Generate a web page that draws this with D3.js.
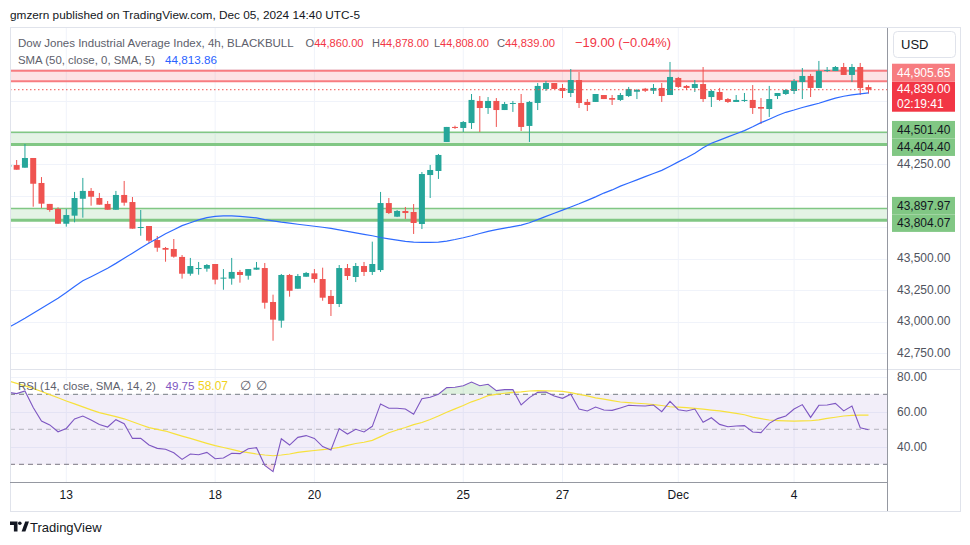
<!DOCTYPE html>
<html><head><meta charset="utf-8">
<script src="https://cdn.jsdelivr.net/npm/d3@7"></script>
<style>
html,body{margin:0;padding:0;background:#fff;}
svg{display:block;font-family:"Liberation Sans",Arial,sans-serif;}
</style></head><body>
<svg id="chart" width="970" height="545"></svg>
<script>
// ---------------- DATA ----------------
const opens  = [44229,44242,44221,44298,44100,43934,43894,43777,43841,43975,44037,43981,43934,43888,44005,43949,43746,43759,43648,43585,43577,43514,43381,43421,43421,43458,43345,43342,43395,43365,43413,43426,43157,43009,43371,43262,43357,43384,43339,43205,43141,43426,43355,43442,43395,43410,43941,43833,43878,43870,43775,44163,44195,44425,44544,44536,44575,44750,44694,44750,44678,44728,44734,44552,44734,44845,44892,44853,44813,44916,44742,44742,44797,44773,44758,44789,44823,44847,44831,44853,44797,44932,44869,44853,44884,44781,44821,44765,44742,44752,44758,44702,44686,44789,44805,44829,44900,44948,44853,44987,44987,45019,44956,45019,44860];
const highs  = [44250,44282,44409,44298,44147,43934,43907,43894,44029,44140,44060,44021,43957,44037,44116,43989,43886,43759,43680,43593,43656,43529,43506,43474,43458,43458,43418,43506,43411,43418,43474,43466,43215,43379,43379,43379,43395,43418,43429,43252,43450,43458,43466,43474,43635,44029,43981,43886,43910,43933,44187,44243,44330,44544,44554,44591,44805,44789,44781,44773,44742,44750,44805,44750,44892,44908,44892,44884,45003,44979,44765,44805,44797,44797,44813,44861,44845,44853,44884,44892,45059,44940,44876,44916,45019,44837,44853,44773,44797,44813,44876,44773,44869,44813,44845,44924,45011,44964,45067,45019,45027,45051,45043,45051,44878];
const lows   = [44222,44205,44221,43912,43902,43872,43777,43754,43788,43825,43920,43928,43888,43888,43920,43738,43682,43622,43555,43476,43508,43342,43365,43373,43397,43297,43254,43294,43310,43334,43413,43104,42850,42953,43199,43262,43357,43310,43167,43046,43117,43331,43315,43363,43371,43395,43854,43830,43815,43696,43735,43981,44132,44425,44528,44504,44528,44504,44647,44544,44678,44663,44512,44425,44678,44829,44845,44773,44781,44694,44670,44742,44765,44718,44750,44781,44765,44821,44805,44742,44797,44853,44837,44821,44742,44702,44750,44734,44742,44742,44647,44567,44623,44765,44797,44805,44765,44781,44853,44979,44987,44956,44900,44797,44808];
const closes = [44243,44205,44298,44094,43936,43886,43777,43846,43981,44037,43991,43928,43888,44005,43944,43738,43751,43643,43587,43571,43516,43381,43442,43426,43450,43334,43350,43395,43371,43418,43429,43151,43017,43371,43246,43363,43387,43339,43191,43141,43426,43363,43442,43395,43458,43941,43862,43878,43862,43783,44171,44203,44322,44544,44536,44583,44758,44694,44750,44678,44726,44734,44544,44742,44869,44892,44845,44829,44916,44734,44718,44805,44765,44760,44797,44845,44837,44831,44853,44789,44940,44861,44853,44884,44765,44829,44758,44742,44758,44758,44694,44689,44765,44813,44837,44908,44948,44853,44987,44995,45019,44956,45019,44853,44839];
const sma50  = [42955,42990,43028,43068,43107,43147,43187,43232,43280,43325,43357,43390,43425,43463,43503,43544,43585,43625,43660,43697,43730,43762,43785,43808,43825,43836,43840,43840,43836,43830,43823,43810,43800,43790,43782,43773,43765,43757,43749,43741,43729,43717,43705,43693,43682,43668,43657,43647,43638,43632,43630,43630,43632,43640,43652,43666,43682,43700,43717,43730,43742,43754,43766,43785,43810,43835,43860,43885,43910,43935,43962,43990,44020,44045,44075,44100,44125,44150,44175,44200,44233,44267,44300,44335,44380,44415,44440,44465,44490,44515,44545,44578,44605,44635,44660,44678,44698,44715,44732,44752,44772,44787,44798,44806,44814];
const rsi    = [71.1,70.4,71.9,62.4,54.7,52.5,48.6,50.5,55.9,57.6,55.3,52.8,51.3,55.5,53.2,44.8,44.8,41.0,39.1,38.6,36.6,32.8,35.9,35.5,36.8,33.2,33.6,36.3,36.1,38.9,39.5,29.4,25.8,44.6,41.0,45.4,46.4,44.8,40.1,38.2,50.4,47.3,50.0,48.5,51.7,64.5,62.0,62.0,61.6,58.6,67.5,68.3,70.0,73.8,74.0,74.9,77.0,74.9,75.7,72.1,72.65,72.65,63.9,68.1,71.1,71.3,69.0,67.7,70.0,61.6,60.5,62.7,61.0,60.8,62.2,63.7,63.5,63.3,63.9,60.1,66.0,61.2,60.5,61.6,54.0,56.6,52.8,51.5,51.9,52.1,48.5,48.1,53.4,56.1,57.6,61.6,64.1,56.8,63.7,63.9,64.8,60.5,63.3,50.9,49.75];
const rsiMa  = [77.6,76.2,74.8,73.4,71.6,69.8,68.0,66.2,64.5,62.8,61.1,59.5,58.4,57.2,56.0,54.3,52.6,51.0,50.0,49.0,47.5,46.1,44.8,43.4,42.0,40.7,39.6,38.5,37.4,36.7,35.9,35.3,34.9,35.3,35.9,36.8,37.4,37.9,38.4,38.9,39.7,40.8,41.9,42.6,43.7,45.8,48.0,49.6,51.0,52.7,53.9,55.6,57.6,59.7,61.7,63.6,65.7,67.3,69.2,70.0,70.6,71.1,71.4,71.9,72.1,72.0,71.9,71.7,71.0,70.0,69.1,68.0,67.2,66.4,65.6,65.2,64.9,64.6,64.1,63.6,62.9,62.7,62.4,62.0,61.5,61.0,60.5,59.8,59.1,58.3,57.0,56.1,55.3,55.0,54.8,54.7,54.8,54.9,55.4,56.2,56.9,57.6,58.0,58.1,58.07];
const dateLabels = ["13","18","20","25","27","Dec","4"];
const dateIndex  = [7,25,37,55,67,81,95];
const priceTicks = [42750,43000,43250,43500,43750,44000,44250,44500,44750,45000];
const rsiTicks   = [80,60,40];
const rsiLevels  = [70,50,30];
const resistZone = [44905.65,44990];
const supportZones = [[44404.40,44501.40],[43804.07,43897.97]];
const lastPrice = 44839.00, smaLast = 44813.86, rsiLast = 49.75, rsiMaLast = 58.07;
const changeText = "\u221219.00 (\u22120.04%)";
const countdown = "02:19:41";

// ---------------- LAYOUT ----------------
const plotL=10, plotR=887.5, mainT=28, mainB=369, rsiB=482.5, axisB=511, axisR=960;
const UP="#26a69a", DN="#ef5350", GREY="#5d606b";
const svg=d3.select("#chart");
const x=d3.scaleLinear().domain([0,104]).range([8.4,868.5]);
const y=d3.scaleLinear().domain([42750,45000]).range([353.35,69.4]);
const yr=d3.scaleLinear().domain([30,70]).range([464.3,394.3]);
const fmt=d3.format(",.2f");

svg.append("rect").attr("width",970).attr("height",545).attr("fill","#fff");
const defs=svg.append("defs");
defs.append("clipPath").attr("id","cMain").append("rect").attr("x",plotL).attr("y",mainT).attr("width",plotR-plotL).attr("height",mainB-mainT);
defs.append("clipPath").attr("id","cRsi").append("rect").attr("x",plotL).attr("y",mainB).attr("width",plotR-plotL).attr("height",rsiB-mainB);
defs.append("clipPath").attr("id","cOB").append("rect").attr("x",plotL).attr("y",mainB).attr("width",plotR-plotL).attr("height",yr(70)-mainB);
defs.append("clipPath").attr("id","cOS").append("rect").attr("x",plotL).attr("y",yr(30)).attr("width",plotR-plotL).attr("height",rsiB-yr(30));

// grid
const grid=svg.append("g").attr("stroke","#f0f3fa").attr("stroke-width",1);
dateIndex.forEach(i=>grid.append("line").attr("x1",x(i)).attr("x2",x(i)).attr("y1",mainT).attr("y2",rsiB));
priceTicks.forEach(t=>grid.append("line").attr("x1",plotL).attr("x2",plotR).attr("y1",Math.round(y(t))+0.5).attr("y2",Math.round(y(t))+0.5));
rsiTicks.forEach(t=>grid.append("line").attr("x1",plotL).attr("x2",plotR).attr("y1",Math.round(yr(t))+0.5).attr("y2",Math.round(yr(t))+0.5));

// zones
const zg=svg.append("g").attr("clip-path","url(#cMain)");
zg.append("rect").attr("x",plotL).attr("width",plotR-plotL).attr("y",y(resistZone[1])).attr("height",y(resistZone[0])-y(resistZone[1])).attr("fill","rgba(242,54,69,0.14)");
supportZones.forEach(z=>zg.append("rect").attr("x",plotL).attr("width",plotR-plotL).attr("y",y(z[1])).attr("height",y(z[0])-y(z[1])).attr("fill","rgba(76,175,80,0.15)"));
zg.append("line").attr("x1",plotL).attr("x2",plotR).attr("y1",y(resistZone[1])).attr("y2",y(resistZone[1])).attr("stroke","#f77c80").attr("stroke-width",2);
zg.append("line").attr("x1",plotL).attr("x2",plotR).attr("y1",y(resistZone[0])).attr("y2",y(resistZone[0])).attr("stroke","#f77c80").attr("stroke-width",2);
supportZones.forEach(z=>{
  zg.append("line").attr("x1",plotL).attr("x2",plotR).attr("y1",y(z[1])).attr("y2",y(z[1])).attr("stroke","#81c784").attr("stroke-width",1.5);
  zg.append("line").attr("x1",plotL).attr("x2",plotR).attr("y1",y(z[0])).attr("y2",y(z[0])).attr("stroke","#81c784").attr("stroke-width",3);
});

// candles
const cg=svg.append("g").attr("clip-path","url(#cMain)");
const idx=d3.range(opens.length);
cg.selectAll("line.w").data(idx).join("line").attr("class","w")
  .attr("x1",i=>x(i)).attr("x2",i=>x(i)).attr("y1",i=>y(highs[i])).attr("y2",i=>y(lows[i]))
  .attr("stroke",i=>closes[i]>=opens[i]?UP:DN).attr("stroke-width",1);
cg.selectAll("rect.b").data(idx).join("rect").attr("class","b")
  .attr("x",i=>x(i)-3).attr("width",6)
  .attr("y",i=>y(Math.max(opens[i],closes[i])))
  .attr("height",i=>Math.max(1,Math.abs(y(opens[i])-y(closes[i]))))
  .attr("fill",i=>closes[i]>=opens[i]?UP:DN);

// SMA
cg.append("path").datum(sma50).attr("fill","none").attr("stroke","#2f6bff").attr("stroke-width",1.2)
  .attr("d",d3.line().x((d,i)=>x(i)).y(d=>y(d)));

// last price dotted line
svg.append("line").attr("x1",plotL).attr("x2",plotR).attr("y1",y(lastPrice)).attr("y2",y(lastPrice))
  .attr("stroke",DN).attr("stroke-width",1).attr("stroke-dasharray","1.5,2.5");

// RSI pane
const rg=svg.append("g");
rg.append("rect").attr("x",plotL).attr("width",plotR-plotL).attr("y",yr(70)).attr("height",yr(30)-yr(70)).attr("fill","rgba(126,87,194,0.1)");
rsiLevels.forEach(l=>rg.append("line").attr("x1",plotL).attr("x2",plotR).attr("y1",yr(l)).attr("y2",yr(l))
  .attr("stroke","#787b86").attr("stroke-opacity",l===50?0.5:1).attr("stroke-dasharray","5,4"));
rg.append("path").datum(rsi).attr("clip-path","url(#cOB)").attr("fill","rgba(76,175,80,0.18)")
  .attr("d",d3.area().x((d,i)=>x(i)).y0(yr(70)).y1(d=>yr(d)));
rg.append("path").datum(rsi).attr("clip-path","url(#cOS)").attr("fill","rgba(242,54,69,0.15)")
  .attr("d",d3.area().x((d,i)=>x(i)).y0(yr(30)).y1(d=>yr(d)));
const rl=svg.append("g").attr("clip-path","url(#cRsi)");
rl.append("path").datum(rsiMa).attr("fill","none").attr("stroke","#f7e13c").attr("stroke-width",1.2)
  .attr("d",d3.line().x((d,i)=>x(i)).y(d=>yr(d)));
rl.append("path").datum(rsi).attr("fill","none").attr("stroke","#7e57c2").attr("stroke-width",1.1)
  .attr("d",d3.line().x((d,i)=>x(i)).y(d=>yr(d)));

// frame lines
svg.append("rect").attr("x",10.5).attr("y",27.5).attr("width",950).attr("height",484).attr("fill","none").attr("stroke","#e0e3eb");
svg.append("line").attr("x1",plotL).attr("x2",axisR).attr("y1",mainB+0.5).attr("y2",mainB+0.5).attr("stroke","#e0e3eb");
svg.append("line").attr("x1",plotL).attr("x2",plotR).attr("y1",rsiB).attr("y2",rsiB).attr("stroke","#9598a1");
svg.append("line").attr("x1",plotR).attr("x2",plotR).attr("y1",mainT).attr("y2",axisB).attr("stroke","#9598a1");

// price axis labels
const boxes=[];
const lpY=y(lastPrice);
boxes.push({top:lpY-8,h:30,fill:"#f23645",lines:[fmt(lastPrice),countdown],col:"#fff"});
boxes.push({top:lpY-8-18,h:18,fill:"#f77c80",lines:[fmt(resistZone[0])],col:"#fff"});
supportZones.forEach(z=>{
  const mid=(y(z[0])+y(z[1]))/2;
  boxes.push({top:mid-17.5,h:17.5,fill:"#81c784",lines:[fmt(z[1])],col:"#131722"});
  boxes.push({top:mid,h:17.5,fill:"#81c784",lines:[fmt(z[0])],col:"#131722"});
});
const ax=svg.append("g").attr("font-size",12);
priceTicks.forEach(t=>{
  const yy=y(t);
  if(yy<mainT+8||yy>mainB-6) return;
  if(boxes.some(b=>yy>b.top-7&&yy<b.top+b.h+7)) return;
  ax.append("text").attr("x",897).attr("y",yy+3.5).attr("fill","#50535e").text(fmt(t));
});
rsiTicks.forEach(t=>ax.append("text").attr("x",897).attr("y",yr(t)+4).attr("fill","#50535e").text(fmt(t)));
boxes.forEach(b=>{
  ax.append("rect").attr("x",892).attr("y",b.top).attr("width",63).attr("height",b.h).attr("fill",b.fill);
  b.lines.forEach((l,k)=>ax.append("text").attr("x",897).attr("y",b.top+b.h/(b.lines.length*2)*(2*k+1)+4.2).attr("fill",b.col).text(l));
});
// USD
svg.append("rect").attr("x",893.5).attr("y",31.5).attr("width",62).attr("height",26).attr("rx",4).attr("fill","#fff").attr("stroke","#e0e3eb");
svg.append("text").attr("x",901).attr("y",49).attr("font-size",13).attr("fill","#131722").text("USD");

// time axis
const tg=svg.append("g").attr("font-size",12).attr("fill","#131722").attr("text-anchor","middle");
dateIndex.forEach((i,k)=>tg.append("text").attr("x",x(i)).attr("y",499).text(dateLabels[k]));

// legends: font size scaled so each text spans its measured width
function fit(sel,len,base){
  sel.attr("font-size",base);
  const w=sel.node().getComputedTextLength();
  if(w>0) sel.attr("font-size",(base*len/w).toFixed(2));
  return sel;
}
fit(svg.append("text").attr("x",10).attr("y",18.5).attr("fill","#131722")
  .text("gmzern published on TradingView.com, Dec 05, 2024 14:40 UTC-5"),350,12.5);
const lg=svg.append("g");
fit(lg.append("text").attr("x",18).attr("y",47).attr("fill",GREY).text("Dow Jones Industrial Average Index, 4h, BLACKBULL"),276,12.5);
const ohlc=[["O",opens[104],305.5,58],["H",highs[104],372,57],["L",lows[104],434,55],["C",closes[104],497,58]];
ohlc.forEach(([k,v,px,len])=>{
  const t=lg.append("text").attr("x",px).attr("y",47);
  t.append("tspan").attr("fill",GREY).text(k);
  t.append("tspan").attr("fill","#f23645").text(fmt(v));
  fit(t,len,12.5);
});
fit(lg.append("text").attr("x",575).attr("y",47).attr("fill","#f23645").text(changeText),96,12.5);
fit(lg.append("text").attr("x",18).attr("y",64).attr("fill",GREY).text("SMA (50, close, 0, SMA, 5)"),137,12.5);
fit(lg.append("text").attr("x",165).attr("y",64).attr("fill","#2962ff").text(fmt(smaLast)),52,12.5);
fit(lg.append("text").attr("x",18).attr("y",390).attr("fill",GREY).text("RSI (14, close, SMA, 14, 2)"),138,12.5);
fit(lg.append("text").attr("x",165.5).attr("y",390).attr("fill","#7e57c2").text(rsiLast.toFixed(2)),29,12.5);
fit(lg.append("text").attr("x",198).attr("y",390).attr("fill","#f2d21b").text(rsiMaLast.toFixed(2)),30,12.5);
lg.append("text").attr("x",240).attr("y",390).attr("font-size",12.5).attr("fill",GREY).text("\u2205");
lg.append("text").attr("x",256).attr("y",390).attr("font-size",12.5).attr("fill",GREY).text("\u2205");

// TradingView logo
const logo=svg.append("g").attr("fill","#131722");
logo.append("path").attr("d","M10 521.5h7.5v10h-3.6v-6.4h-3.9z");
logo.append("circle").attr("cx",19.8).attr("cy",523.3).attr("r",1.8);
logo.append("path").attr("d","M21.6 531.5l3.6-10h3.8l-3.6 10z");
svg.append("text").attr("x",30).attr("y",531.5).attr("font-size",13).attr("fill","#131722").text("TradingView");
</script></body></html>
